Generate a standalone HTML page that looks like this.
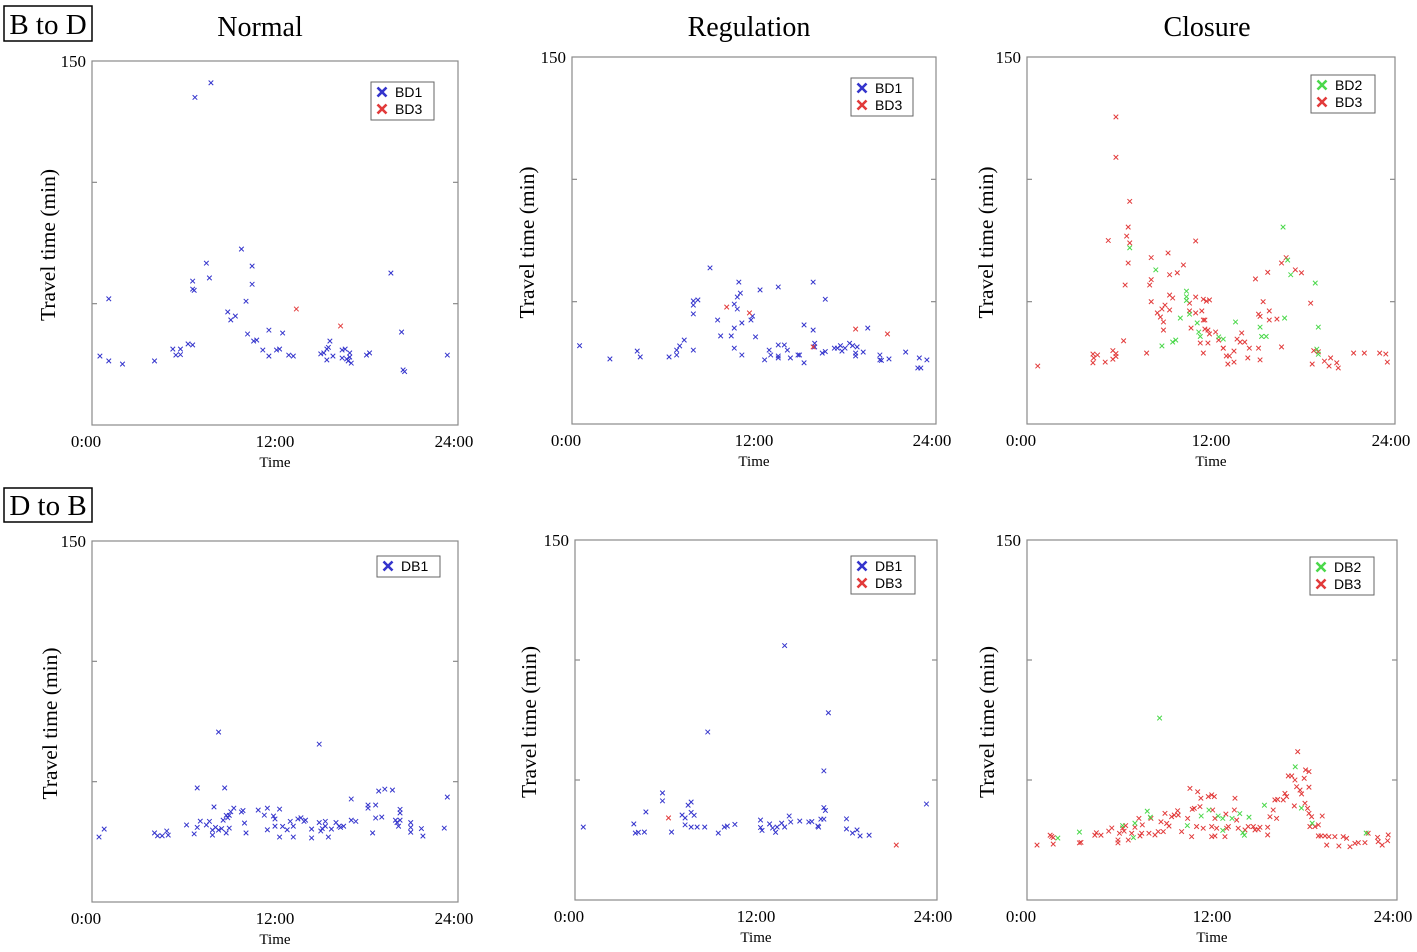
<!DOCTYPE html>
<html><head><meta charset="utf-8">
<style>
body{margin:0;background:#fff;}
svg{display:block;}
.serif{font-family:"Liberation Serif",serif;}
.sans{font-family:"Liberation Sans",sans-serif;}
</style></head>
<body>
<svg id="fig" width="1417" height="952" viewBox="0 0 1417 952" xmlns="http://www.w3.org/2000/svg">
<g class="serif" fill="#000">
<rect x="4" y="6" width="88" height="35" fill="none" stroke="#000" stroke-width="1.5"/>
<text x="48" y="34" text-anchor="middle" font-size="29">B to D</text>
<rect x="4" y="488" width="88" height="34" fill="none" stroke="#000" stroke-width="1.5"/>
<text x="48" y="515" text-anchor="middle" font-size="29">D to B</text>
<text x="260" y="36" text-anchor="middle" font-size="28">Normal</text>
<text x="749" y="36" text-anchor="middle" font-size="28">Regulation</text>
<text x="1207" y="36" text-anchor="middle" font-size="28">Closure</text>
</g>
</svg>
<script>
const xTickLabels = ["0:00","12:00","24:00"];
const xTickHours = [0,12,24];
const yTicks = [50,100];
const yMax = 150;

const p1Blue = [[0.52,28.4],[1.1,26.4],[2.0,25.1],[1.1,52],[4.1,26.4],[5.3,31.3],[5.5,28.8],[5.8,31.3],[5.8,29],[6.3,33.4],[6.6,33],[6.6,59.3],[6.6,56],[6.7,55.5],[7.5,66.7],[7.7,60.6],[8.9,46.6],[9.1,43.3],[9.4,44.9],[9.8,72.5],[10.1,51],[10.5,65.5],[10.5,58],[10.2,37.5],[10.6,34.6],[10.8,35],[11.2,30.9],[11.6,39.1],[11.6,28.4],[12.1,30.9],[12.3,31.3],[12.5,37.9],[12.9,28.8],[13.2,28.4],[15.0,29.3],[15.2,29.7],[15.4,31.3],[15.5,32],[15.6,34.6],[15.4,26.8],[15.8,28.4],[16.4,30.9],[16.6,31.3],[16.4,27.6],[16.7,27.2],[16.8,26.4],[16.9,29.7],[16.9,28],[17.0,25.5],[18.0,28.8],[18.2,29.7],[19.6,62.6],[20.3,38.3],[20.4,22.7],[20.5,22],[23.3,28.8],[6.75,135],[7.8,141]];
const p1Red = [[13.4,47.8],[16.3,40.8]];

const p2Blue = [[0.5,32],[2.5,26.6],[4.3,29.8],[4.5,27.4],[6.4,27.4],[6.9,28.2],[6.9,30.2],[7.1,31.9],[7.4,34.3],[8.0,50.3],[8.0,48.6],[8.3,50.7],[8.0,45],[8.0,30.2],[9.1,63.8],[9.6,42.5],[9.8,36],[10.5,36],[10.7,39.2],[10.7,31],[10.7,49],[10.9,47],[10.9,51.9],[11.1,53.5],[11.0,58],[11.2,41.3],[11.2,28.2],[11.9,44.1],[11.8,42.5],[12.1,35.6],[12.4,54.8],[12.7,26.2],[13.0,30.2],[13.1,28.2],[13.6,27.8],[13.6,27],[13.6,32.3],[14.0,32.3],[13.6,56],[14.2,30.2],[14.4,27],[14.9,28.2],[15.0,28.2],[15.3,25],[15.3,40.5],[15.9,58],[15.9,38.4],[16.0,33],[16.0,31.5],[16.5,29],[16.7,29.6],[16.7,51],[17.3,31],[17.5,31],[17.7,32],[17.8,29.8],[18.0,31],[18.3,33],[18.5,32],[18.7,29],[18.7,27.8],[18.8,31.5],[19.2,29.4],[19.5,39.2],[20.3,28.2],[20.3,26.2],[20.4,26],[20.9,26.6],[22.0,29.4],[22.9,27],[22.8,22.9],[23.0,22.9],[23.4,26.2]];
const p2Red = [[10.2,47.8],[11.7,45.4],[15.9,31.5],[18.7,38.8],[20.8,36.8]];

const p3Red = [[5.8,125.5],[5.8,109],[6.7,91],[6.6,80.5],[6.5,76.8],[6.7,74],[5.3,75],[6.6,65.8],[6.4,56.8],[11.0,74.8],[8.1,68],[9.2,69.9],[8.1,59],[8.0,56.8],[9.3,61],[9.8,61.8],[10.2,65],[8.1,50],[9.3,52.7],[9.5,51.5],[9.0,48.6],[8.8,47],[8.5,45.4],[8.7,43.7],[8.9,41.7],[8.9,38.4],[9.3,46.6],[11.0,51.9],[10.6,49.4],[10.6,46.2],[11.5,51],[11.9,50.7],[11.7,50.2],[11.0,45.4],[11.4,46.2],[11.5,42.5],[10.7,39.2],[11.6,38.8],[11.8,38.4],[12.3,37.6],[11.3,33.1],[11.8,33.1],[11.5,29],[12.8,31],[13.0,27.8],[13.2,27.8],[13.5,29.8],[13.7,34.7],[13.9,33.5],[14.2,33.5],[14.5,31],[14.0,37.2],[13.1,24.5],[13.5,25.3],[14.4,27],[15.1,31],[15.2,26.2],[14.9,59.3],[15.7,62],[15.4,50],[15.1,44.9],[15.2,44],[15.8,46.2],[15.8,42.5],[16.3,42.9],[16.6,65.8],[16.9,68],[17.5,63],[17.9,61.8],[18.5,49.4],[16.6,31.5],[18.7,30],[19.0,29.5],[18.6,24.5],[19.4,25.7],[19.7,23.7],[19.8,27],[20.2,25],[20.3,22.9],[21.3,29],[22.0,29],[23.0,29],[23.4,28.6],[23.5,25.3],[0.7,23.7],[4.3,28.6],[4.3,25],[4.35,27],[4.6,28.2],[5.1,25.3],[5.6,30],[5.8,28.8],[5.8,27.6],[5.6,26.5],[6.3,34],[7.8,29],[12.5,34.3],[11.9,36.8],[11.6,42.5],[12.8,31]];
const p3Green = [[6.7,72],[8.4,63],[10.4,54.3],[10.4,52],[10.4,50.5],[10.0,43.3],[10.6,44.9],[11.1,41.3],[11.2,37.6],[11.3,35.8],[8.8,31.9],[9.5,33.5],[9.7,34.3],[12.5,35.6],[12.8,34.7],[13.6,41.7],[16.7,80.5],[17.0,67],[17.2,61],[18.8,57.6],[19.0,39.6],[16.8,43.3],[15.2,39.6],[15.3,35.8],[15.6,35.8],[18.9,30.6],[19.0,28.5]];

const p4Blue = [[0.46,27],[0.8,30.3],[4.1,28.7],[4.3,27.5],[4.6,27.5],[4.9,29.5],[5.0,27.8],[6.2,32],[6.7,28.3],[6.9,47.4],[8.3,70.6],[6.9,31],[7.1,33.6],[7.5,32],[7.7,33.5],[7.9,29.9],[7.9,27.8],[8.0,39.5],[8.1,31],[8.3,29.9],[8.5,30.5],[8.6,34],[8.7,47.4],[8.8,36],[8.9,35],[9.0,36],[9.1,37.5],[9.3,39],[8.8,28.7],[9.0,30.7],[9.8,37.4],[9.9,38],[10.0,32.8],[10.1,28.7],[10.9,38.2],[11.3,36.1],[11.5,39],[11.5,30],[11.9,35.7],[12.0,34.5],[12.0,31.5],[12.3,38.6],[12.3,27],[12.5,31.4],[12.8,30],[13.0,33.5],[13.2,31.5],[13.2,27],[13.5,34.5],[13.7,35],[13.9,33.5],[14.0,34],[14.4,30.3],[14.4,26.6],[14.9,33],[14.9,65.6],[15.0,29.5],[15.1,30.5],[15.3,33.5],[15.3,31.5],[15.5,27],[15.7,30.3],[16.0,33],[16.2,31.5],[16.3,31],[16.5,31.5],[17.0,42.8],[17.0,34],[17.3,33.5],[18.1,40.3],[18.1,39],[18.6,40.3],[18.4,28.7],[18.6,34.9],[19.0,35.3],[18.8,46.1],[19.2,46.9],[19.7,46.5],[19.9,34],[20.0,33],[20.1,31.5],[20.2,37],[20.2,38.5],[20.2,34],[20.9,33],[20.9,31],[20.9,29],[21.6,30.5],[21.7,27.4],[23.1,30.7],[23.3,43.6]];

const p5Blue = [[0.55,30.4],[3.9,31.7],[4.0,27.9],[4.2,28.2],[4.6,28.3],[4.7,36.7],[5.8,44.6],[5.8,41.3],[6.4,28.3],[7.1,35.4],[7.3,34.2],[7.3,31.3],[7.5,39.5],[7.7,40.8],[7.7,36.5],[7.9,35.3],[7.7,30.4],[8.1,30.4],[8.6,30.4],[8.8,70],[9.5,27.9],[9.9,30.4],[10.1,30.8],[10.6,31.5],[12.3,33.3],[12.3,30.2],[12.4,29],[12.9,31.7],[13.1,30],[13.3,28.2],[13.4,30.4],[13.7,32],[13.9,30.4],[14.2,35],[14.3,32.5],[14.9,32.9],[15.5,32.5],[15.7,32.7],[16.1,30.8],[16.15,30.4],[16.3,33.7],[16.5,33.7],[16.5,53.8],[16.5,38.5],[16.6,37.3],[18.0,33.8],[18.0,29.6],[18.4,27.9],[18.7,29.2],[18.9,26.7],[19.5,27],[23.3,40],[13.9,106],[16.8,78]];
const p5Red = [[6.2,34.2],[21.3,22.9]];

const p6Red = [[0.65,22.9],[1.5,27],[1.6,26.5],[1.7,26],[1.7,23.3],[3.4,23.8],[3.5,24],[4.4,27],[4.5,28],[4.8,27],[5.3,28.7],[5.5,30],[5.9,23.8],[5.9,25],[6.0,27.8],[6.2,30],[6.3,28.7],[6.4,31],[6.57,25],[6.79,27.8],[7.0,30.3],[7.33,26.7],[7.44,27.8],[7.26,34],[7.48,31.3],[7.91,27.8],[8.04,34],[8.3,27.1],[8.51,28.5],[8.69,32.6],[8.84,28.5],[8.95,36.1],[9.06,31.9],[9.21,30.8],[9.38,34.7],[9.55,35.4],[9.77,37.2],[9.81,35.4],[10.03,28.5],[10.42,34],[10.57,46.5],[10.72,37.8],[10.85,38.2],[11.0,30.6],[11.07,45.1],[11.22,38.9],[11.28,42.4],[11.76,43.1],[11.98,43.8],[11.98,26.4],[12.04,37.5],[12.19,34],[12.3,29.9],[12.15,43.1],[11.98,30.6],[12.84,26.4],[12.9,35.8],[12.95,29.9],[13.06,30.6],[13.49,42.4],[13.45,37.5],[13.6,33.3],[13.7,29.9],[14.14,29.2],[14.35,30.6],[14.68,30.6],[14.79,29.2],[15.0,29.4],[15.11,30.3],[15.61,27.1],[15.61,30.3],[15.76,34.7],[15.97,37.5],[16.19,34],[16.08,41.7],[16.26,41.9],[16.62,41.7],[16.73,44.4],[16.84,43.1],[16.95,51.7],[17.17,51.7],[17.34,39.2],[17.38,50],[17.56,61.8],[17.49,47.2],[17.71,45.8],[17.81,44.2],[17.98,50.7],[18.07,54.2],[18.29,53.5],[18.29,47],[18.03,40.3],[18.2,38.2],[18.29,36.1],[18.46,34.7],[18.35,30.6],[18.68,30.6],[18.9,31.3],[18.9,26.7],[19.15,35],[19.44,22.9],[19.07,26.7],[19.33,26.7],[19.58,26.4],[19.97,26.4],[20.23,22.5],[20.51,26.4],[20.73,25.7],[20.95,22.2],[21.27,23.6],[21.49,23.9],[21.92,23.9],[22.13,27.8],[22.74,26.1],[22.78,24.3],[23.04,22.9],[23.43,27.1],[23.39,24.7],[10.68,26.4],[11.43,29.9],[12.19,26.7]];
const p6Green = [[8.6,75.8],[3.4,28.3],[2.0,25.8],[6.2,31],[7.0,32],[6.9,26],[7.8,37],[8.0,34.5],[10.4,31],[11.3,35],[11.8,37.5],[12.4,35],[12.7,34],[12.7,29],[13.3,34],[13.8,36],[14.4,34.5],[14.0,28],[14.1,27],[15.4,39.5],[17.4,55.5],[17.8,38.3],[18.5,32],[22.0,27.9]];

const BLUE="#3434cc", RED="#e23a3a", GREEN="#4ad84a";
const NS="http://www.w3.org/2000/svg";
const fig=document.getElementById('fig');
function mk(tag,attrs,parent){const e=document.createElementNS(NS,tag);for(const k in attrs)e.setAttribute(k,attrs[k]);(parent||fig).appendChild(e);return e;}

const panels=[
 {id:'bd-normal',L:92,R:458,T:61,B:425,ylabX:48,series:[[p1Blue,BLUE],[p1Red,RED]],leg:{x:371,y:82,w:63,items:[['BD1',BLUE],['BD3',RED]]}},
 {id:'bd-regulation',L:572,R:936,T:57,B:424,ylabX:527,series:[[p2Blue,BLUE],[p2Red,RED]],leg:{x:851,y:78,w:62,items:[['BD1',BLUE],['BD3',RED]]}},
 {id:'bd-closure',L:1027,R:1395,T:57,B:424,ylabX:986,series:[[p3Red,RED],[p3Green,GREEN]],leg:{x:1311,y:75,w:64,items:[['BD2',GREEN],['BD3',RED]]}},
 {id:'db-normal',L:92,R:458,T:541,B:902,ylabX:50,series:[[p4Blue,BLUE]],leg:{x:377,y:556,w:63,items:[['DB1',BLUE]]}},
 {id:'db-regulation',L:575,R:937,T:540,B:900,ylabX:529,series:[[p5Blue,BLUE],[p5Red,RED]],leg:{x:851,y:556,w:64,items:[['DB1',BLUE],['DB3',RED]]}},
 {id:'db-closure',L:1027,R:1397,T:540,B:900,ylabX:987,series:[[p6Red,RED],[p6Green,GREEN]],leg:{x:1310,y:557,w:64,items:[['DB2',GREEN],['DB3',RED]]}}
];

function cross(g,cx,cy,col,s,w){
  return mk('path',{d:`M${cx-s},${cy-s}L${cx+s},${cy+s}M${cx-s},${cy+s}L${cx+s},${cy-s}`,stroke:col,'stroke-width':w,fill:'none'},g);
}

panels.forEach(pn=>{
  const xs=h=>pn.L+(pn.R-pn.L)*h/24;
  const ys=v=>pn.B-(pn.B-pn.T)*v/yMax;
  const g=mk('g',{});
  
  
  const box=mk('rect',{x:pn.L,y:pn.T,width:pn.R-pn.L,height:pn.B-pn.T,fill:'none',stroke:'#8a8a8a','stroke-width':1.2},g);
  
  
  yTicks.forEach(v=>{
    const t1=mk('line',{x1:pn.L,x2:pn.L+5,y1:ys(v),y2:ys(v),stroke:'#8a8a8a','stroke-width':1.2},g);
    
    
    const t2=mk('line',{x1:pn.R-5,x2:pn.R,y1:ys(v),y2:ys(v),stroke:'#8a8a8a','stroke-width':1.2},g);
    
    
  });
  const yl=mk('text',{x:pn.L-6,y:pn.T+6,'text-anchor':'end','font-size':17,'font-family':'Liberation Serif, serif'},g);
  yl.textContent=String(yMax);
  
  
  xTickHours.forEach((h,i)=>{
    const t=mk('text',{x:xs(h)+(i===0?-6:(i===2?-4:0)),y:pn.B+22,'text-anchor':'middle','font-size':17,'font-family':'Liberation Serif, serif'},g);
    t.textContent=xTickLabels[i];
    
    
  });
  const xt=mk('text',{x:xs(12),y:pn.B+42,'text-anchor':'middle','font-size':15,'font-family':'Liberation Serif, serif'},g);
  xt.textContent='Time';
  
  
  const cy=(pn.T+pn.B)/2+2;
  const yt=mk('text',{x:pn.ylabX,y:cy,'text-anchor':'middle','font-size':21.5,'font-family':'Liberation Serif, serif',transform:`rotate(-90 ${pn.ylabX} ${cy})`,dy:7},g);
  yt.textContent='Travel time (min)';
  
  
  pn.series.forEach(([data,col])=>{
    data.forEach(d=>{
      const m=cross(g,xs(d[0]),ys(d[1]),col,2.3,1);
      
      
    });
  });
  const lg=pn.leg;
  const lh=lg.items.length*17+4;
  const lgG=mk('g',{},g);
  
  
  mk('rect',{x:lg.x,y:lg.y,width:lg.w,height:lh,fill:'#fff',stroke:'#666','stroke-width':1},lgG);
  lg.items.forEach((it,i)=>{
    const yy=lg.y+10+i*17;
    const e=mk('g',{},lgG);
    
    
    cross(e,lg.x+11,yy,it[1],4.5,2.6);
    const t=mk('text',{x:lg.x+24,y:yy+5,'font-size':14,'font-family':'Liberation Sans, sans-serif'},e);
    t.textContent=it[0];
  });
});
</script>
</body></html>
